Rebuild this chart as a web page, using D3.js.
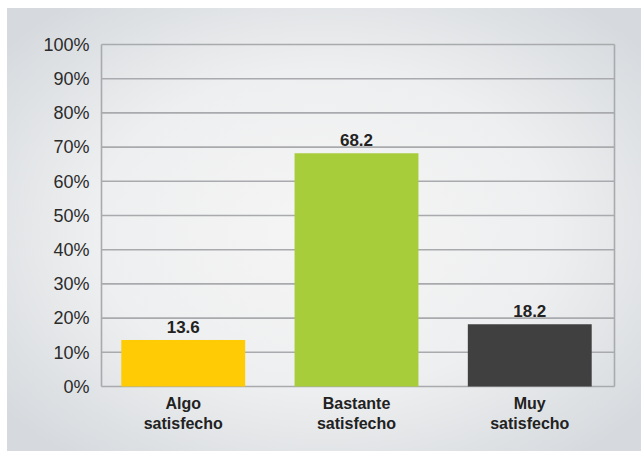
<!DOCTYPE html>
<html>
<head>
<meta charset="utf-8">
<script src="https://cdn.jsdelivr.net/npm/d3@7"></script>
<style>
  body { margin: 0; background: #fff; }
  svg { display: block; font-family: "Liberation Sans", Arial, sans-serif; }
</style>
</head>
<body>
<div id="chart"></div>
<script>
var categories = [["Algo", "satisfecho"], ["Bastante", "satisfecho"], ["Muy", "satisfecho"]];
var values = [13.6, 68.2, 18.2];
var colors = ["#ffcb05", "#a8cd3a", "#404040"];
var yTicks = [0, 10, 20, 30, 40, 50, 60, 70, 80, 90, 100];

var w = 641, h = 453;
var plotLeft = 101.5, plotRight = 614.5, plotTop = 44.5, plotBottom = 386.5;

var svg = d3.select("#chart").append("svg")
  .attr("width", w).attr("height", h);

// background panel
var defs = svg.append("defs");
var grad = defs.append("radialGradient").attr("id", "bg")
  .attr("cx", "50%").attr("cy", "50%").attr("r", "65%");
grad.append("stop").attr("offset", "0%").attr("stop-color", "#f5f5f5");
grad.append("stop").attr("offset", "55%").attr("stop-color", "#eeeff0");
grad.append("stop").attr("offset", "100%").attr("stop-color", "#d6dade");
svg.append("rect").attr("x", 7).attr("y", 8).attr("width", w - 7).attr("height", 443)
  .attr("fill", "url(#bg)");

var x = d3.scaleBand().domain(d3.range(categories.length))
  .range([plotLeft - 1, plotRight - 2]).paddingInner(0.285).paddingOuter(0.12);
var y = d3.scaleLinear().domain([0, 100]).range([plotBottom, plotTop]);

// gridlines
svg.append("g").selectAll("line").data(yTicks).enter().append("line")
  .attr("x1", plotLeft).attr("x2", plotRight)
  .attr("y1", function(d) { return y(d); }).attr("y2", function(d) { return y(d); })
  .attr("stroke", "#a9aaad").attr("stroke-width", 1.6);

// frame sides
svg.append("line").attr("x1", plotLeft).attr("x2", plotLeft).attr("y1", plotTop).attr("y2", plotBottom)
  .attr("stroke", "#a9aaad").attr("stroke-width", 1.6);
svg.append("line").attr("x1", plotRight).attr("x2", plotRight).attr("y1", plotTop).attr("y2", plotBottom)
  .attr("stroke", "#a9aaad").attr("stroke-width", 1.6);

// y axis labels
var yAxis = d3.axisLeft(y).tickValues(yTicks).tickSize(0).tickPadding(12)
  .tickFormat(function(d) { return d + "%"; });
var ya = svg.append("g").attr("transform", "translate(" + plotLeft + ",0)").call(yAxis);
ya.select(".domain").remove();
ya.selectAll("text").attr("font-size", 18).attr("fill", "#2b2b2b")
  .attr("font-family", "'Liberation Sans', Arial, sans-serif");

// bars
svg.append("g").selectAll("rect").data(values).enter().append("rect")
  .attr("x", function(d, i) { return x(i); })
  .attr("width", x.bandwidth())
  .attr("y", function(d) { return y(d); })
  .attr("height", function(d) { return y(0) - y(d); })
  .attr("fill", function(d, i) { return colors[i]; });

// value labels
svg.append("g").selectAll("text").data(values).enter().append("text")
  .attr("x", function(d, i) { return x(i) + x.bandwidth() / 2; })
  .attr("y", function(d) { return y(d) - 7; })
  .attr("text-anchor", "middle").attr("font-size", 17).attr("font-weight", "bold")
  .attr("fill", "#222")
  .text(function(d) { return d.toFixed(1); });

// category labels
var cat = svg.append("g").selectAll("text").data(categories).enter().append("text")
  .attr("text-anchor", "middle").attr("font-size", 16).attr("font-weight", "bold")
  .attr("fill", "#222");
cat.each(function(d, i) {
  var t = d3.select(this);
  d.forEach(function(line, j) {
    t.append("tspan").attr("x", x(i) + x.bandwidth() / 2)
      .attr("y", 409 + j * 20).text(line);
  });
});
</script>
</body>
</html>
